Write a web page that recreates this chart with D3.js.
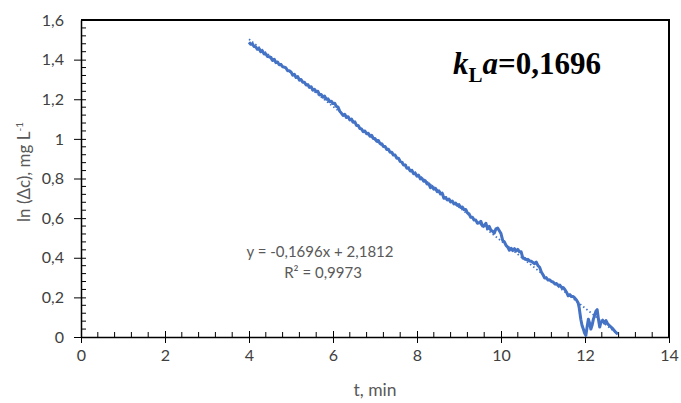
<!DOCTYPE html>
<html><head><meta charset="utf-8">
<script src="https://cdn.jsdelivr.net/npm/d3@7"></script>
<style>body{margin:0;background:#fff}svg{display:block}</style>
</head><body>
<svg id="c" width="681" height="403"></svg>
<script>
const timeMin = [4.00,4.04,4.08,4.12,4.16,4.20,4.24,4.28,4.32,4.36,4.40,4.44,4.48,4.52,4.56,4.60,4.64,4.68,4.72,4.76,4.80,4.84,4.88,4.92,4.96,5.00,5.04,5.08,5.12,5.16,5.20,5.24,5.28,5.32,5.36,5.40,5.44,5.48,5.52,5.56,5.60,5.64,5.68,5.72,5.76,5.80,5.84,5.88,5.92,5.96,6.00,6.04,6.08,6.12,6.16,6.20,6.24,6.28,6.32,6.36,6.40,6.44,6.48,6.52,6.56,6.60,6.64,6.68,6.72,6.76,6.80,6.84,6.88,6.92,6.96,7.00,7.04,7.08,7.12,7.16,7.20,7.24,7.28,7.32,7.36,7.40,7.44,7.48,7.52,7.56,7.60,7.64,7.68,7.72,7.76,7.80,7.84,7.88,7.92,7.96,8.00,8.04,8.08,8.12,8.16,8.20,8.24,8.28,8.32,8.36,8.40,8.44,8.48,8.52,8.56,8.60,8.64,8.68,8.72,8.76,8.80,8.84,8.88,8.92,8.96,9.00,9.04,9.08,9.12,9.16,9.20,9.24,9.28,9.32,9.36,9.40,9.44,9.48,9.52,9.56,9.60,9.64,9.68,9.72,9.76,9.80,9.84,9.88,9.92,9.96,10.00,10.04,10.08,10.12,10.16,10.20,10.24,10.28,10.32,10.36,10.40,10.44,10.48,10.52,10.56,10.60,10.64,10.68,10.72,10.76,10.80,10.84,10.88,10.92,10.96,11.00,11.04,11.08,11.12,11.16,11.20,11.24,11.28,11.32,11.36,11.40,11.44,11.48,11.52,11.56,11.60,11.64,11.68,11.72,11.76,11.80,11.84,11.86,11.88,11.90,11.93,11.96,11.99,12.02,12.05,12.08,12.11,12.14,12.17,12.20,12.23,12.26,12.29,12.32,12.35,12.38,12.42,12.46,12.50,12.54,12.58,12.62,12.66,12.70,12.74,12.78];
const lnDeltaC = [1.488,1.478,1.480,1.466,1.465,1.452,1.456,1.440,1.444,1.428,1.430,1.416,1.415,1.410,1.396,1.402,1.385,1.388,1.374,1.376,1.364,1.362,1.358,1.344,1.344,1.338,1.322,1.326,1.310,1.314,1.296,1.300,1.286,1.286,1.272,1.274,1.260,1.263,1.246,1.250,1.238,1.240,1.222,1.224,1.210,1.216,1.200,1.202,1.188,1.190,1.178,1.180,1.164,1.160,1.140,1.130,1.118,1.124,1.108,1.112,1.096,1.100,1.084,1.086,1.068,1.068,1.052,1.050,1.036,1.040,1.026,1.028,1.014,1.018,1.002,1.002,0.988,0.992,0.976,0.976,0.962,0.962,0.946,0.948,0.932,0.932,0.918,0.918,0.902,0.902,0.886,0.882,0.868,0.868,0.852,0.852,0.838,0.840,0.824,0.826,0.812,0.816,0.798,0.800,0.786,0.788,0.772,0.774,0.754,0.760,0.746,0.750,0.734,0.738,0.722,0.726,0.700,0.704,0.692,0.696,0.682,0.686,0.672,0.676,0.664,0.668,0.654,0.656,0.642,0.644,0.626,0.622,0.604,0.604,0.590,0.590,0.574,0.576,0.584,0.560,0.562,0.574,0.546,0.558,0.538,0.534,0.524,0.546,0.550,0.536,0.522,0.488,0.480,0.462,0.454,0.438,0.448,0.436,0.446,0.434,0.442,0.430,0.430,0.398,0.398,0.390,0.392,0.384,0.382,0.376,0.370,0.378,0.360,0.352,0.328,0.314,0.298,0.298,0.288,0.288,0.280,0.278,0.268,0.270,0.260,0.262,0.250,0.250,0.240,0.226,0.208,0.214,0.204,0.204,0.196,0.186,0.170,0.150,0.120,0.090,0.058,0.040,0.020,0.008,0.050,0.090,0.070,0.040,0.060,0.090,0.110,0.130,0.138,0.090,0.050,0.075,0.085,0.070,0.083,0.066,0.058,0.050,0.042,0.032,0.022,0.015];
const trendX = [4.0, 12.78];
const trendY = [1.503, 0.014];
const xTickValues = [0,2,4,6,8,10,12,14];
const yTickValues = [0,0.2,0.4,0.6,0.8,1,1.2,1.4,1.6];
const yTickLabels = ["0","0,2","0,4","0,6","0,8","1","1,2","1,4","1,6"];
const eqLine1 = "y = -0,1696x + 2,1812";
const eqLine2 = "R² = 0,9973";
const xTitle = "t, min";

const svg = d3.select("#c");
const L = 81, R = 669, T = 20, B = 337;
const x = d3.scaleLinear().domain([0,14]).range([L, R]);
const y = d3.scaleLinear().domain([0,1.6]).range([B, T]);
const font = "Lato, 'Open Sans', sans-serif";

// plot frame top & right
svg.append("line").attr("x1",L).attr("x2",R+1).attr("y1",T).attr("y2",T).attr("stroke","#000").attr("stroke-width",2);
svg.append("line").attr("x1",R).attr("x2",R).attr("y1",T).attr("y2",B).attr("stroke","#000").attr("stroke-width",2);

// minor ticks
const xMinor = d3.range(0, 14.001, 0.4).filter(v => Math.abs(v/2 - Math.round(v/2)) > 1e-6);
svg.append("g").selectAll("line").data(xMinor).join("line")
  .attr("x1",d=>x(d)).attr("x2",d=>x(d)).attr("y1",B).attr("y2",B-5)
  .attr("stroke","#000").attr("stroke-width",1);
const yMinor = d3.range(0, 1.6001, 0.04).filter(v => Math.abs(v/0.2 - Math.round(v/0.2)) > 1e-6);
svg.append("g").selectAll("line").data(yMinor).join("line")
  .attr("x1",L).attr("x2",L+5).attr("y1",d=>y(d)).attr("y2",d=>y(d))
  .attr("stroke","#000").attr("stroke-width",1);

// axes
const xAxis = d3.axisBottom(x).tickValues(xTickValues).tickSize(6).tickSizeOuter(0).tickPadding(7).tickFormat(d=>String(d));
const gx = svg.append("g").attr("transform",`translate(0,${B})`).call(xAxis);
gx.select(".domain").attr("stroke","#000").attr("stroke-width",1.5);
gx.selectAll(".tick line").attr("stroke","#000").attr("y1",-6);
gx.selectAll(".tick text").attr("font-family",font).attr("font-size",16).attr("fill","#404040");

const yAxis = d3.axisLeft(y).tickValues(yTickValues).tickSize(7).tickSizeOuter(0).tickPadding(10).tickFormat((d,i)=>yTickLabels[i]);
const gy = svg.append("g").attr("transform",`translate(${L},0)`).call(yAxis);
gy.select(".domain").attr("stroke","#000").attr("stroke-width",1.5);
gy.selectAll(".tick line").attr("stroke","#000").attr("x2",d=> d===1.6 ? -7 : 5).attr("x1",-7);
gy.selectAll(".tick text").attr("font-family",font).attr("font-size",16).attr("fill","#404040");

// trendline (dotted)
svg.append("path").datum(trendX.map((t,i)=>[t,trendY[i]]))
  .attr("d", d3.line().x(d=>x(d[0])).y(d=>y(d[1])))
  .attr("fill","none").attr("stroke","#4472C4").attr("stroke-width",1.8).attr("stroke-dasharray","1.5,2.5");

// data line
svg.append("path").datum(timeMin.map((t,i)=>[t,lnDeltaC[i]]))
  .attr("d", d3.line().x(d=>x(d[0])).y(d=>y(d[1])))
  .attr("fill","none").attr("stroke","#4472C4").attr("stroke-width",3).attr("stroke-linejoin","round");

// equation
svg.append("text").attr("x",320).attr("y",257).attr("text-anchor","middle")
  .attr("font-family",font).attr("font-size",15).attr("fill","#595959").text(eqLine1);
svg.append("text").attr("x",323).attr("y",278).attr("text-anchor","middle")
  .attr("font-family",font).attr("font-size",15).attr("fill","#595959").text(eqLine2);

// kLa label
const kt = svg.append("text").attr("x",453).attr("y",74).attr("font-family","'Liberation Serif','Times New Roman',serif")
  .attr("font-size",31).attr("font-weight","bold").attr("fill","#000");
kt.append("tspan").attr("font-style","italic").text("k");
kt.append("tspan").attr("font-size",21).attr("dy",8).text("L");
kt.append("tspan").attr("font-style","italic").attr("dy",-8).text("a");
kt.append("tspan").text("=0,1696");

// axis titles
svg.append("text").attr("x",375).attr("y",396).attr("text-anchor","middle")
  .attr("font-family",font).attr("font-size",17.5).attr("fill","#595959").text(xTitle);
const yt = svg.append("text").attr("transform","translate(30,172) rotate(-90)").attr("text-anchor","middle")
  .attr("font-family",font).attr("font-size",17).attr("fill","#595959");
yt.append("tspan").text("ln (Δc), mg L");
yt.append("tspan").attr("font-size",10).attr("dy",-7).text("-1");
</script>
</body></html>
